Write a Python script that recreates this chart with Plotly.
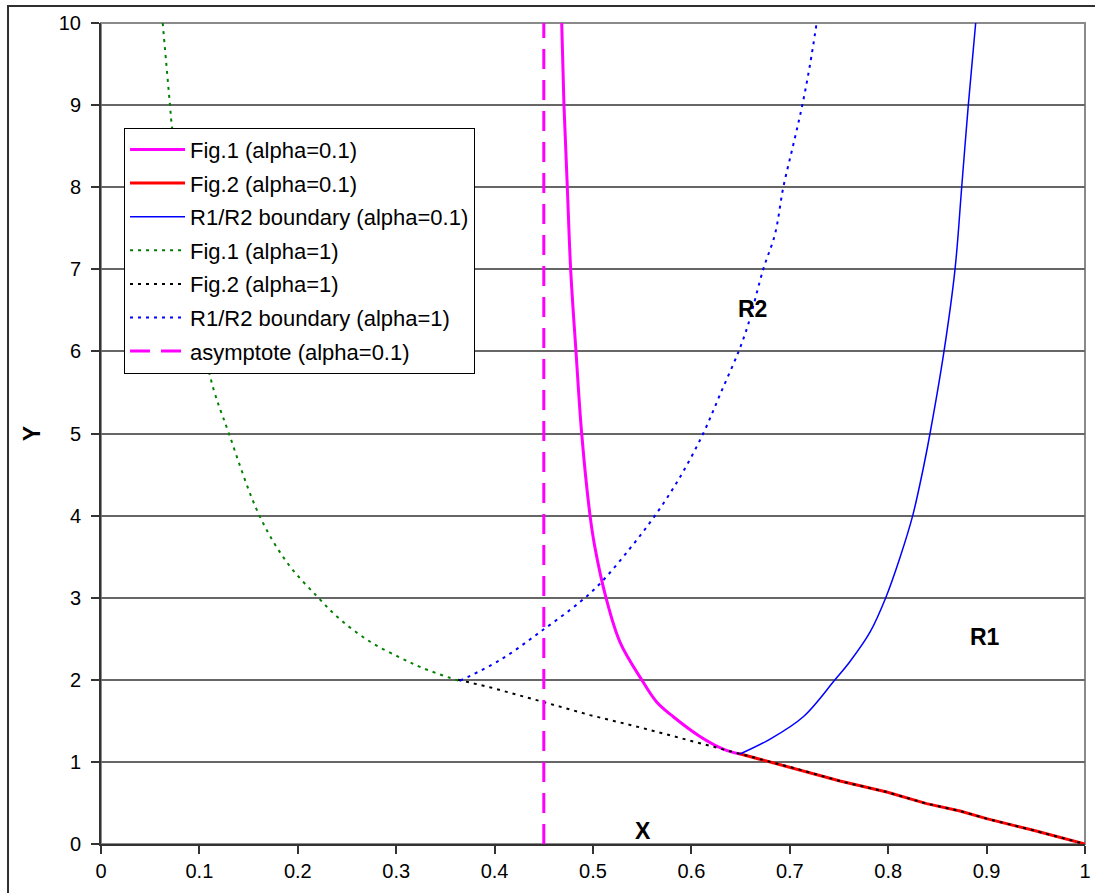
import plotly.graph_objects as go

# ---- data ----
fig1_a01_x = [0.4682, 0.4705, 0.4739, 0.4773, 0.4827, 0.4885, 0.4970, 0.502, 0.5132, 0.5274,
              0.5495, 0.5647, 0.5816, 0.6087, 0.6324, 0.6494]
fig1_a01_y = [10.0, 9.0, 8.0, 7.0, 6.0, 5.0, 4.0, 3.61, 3.0, 2.46,
              2.0, 1.73, 1.55, 1.31, 1.156, 1.096]

fig2_a01_x = [0.649, 0.6765, 0.710, 0.751, 0.7985, 0.839, 0.873, 0.900, 0.9475, 1.0]
fig2_a01_y = [1.10, 1.01, 0.906, 0.767, 0.633, 0.492, 0.402, 0.309, 0.167, 0.0]

bnd_a01_x = [0.6494, 0.680, 0.7137, 0.7459, 0.761, 0.7815, 0.7975, 0.812, 0.8249, 0.8357,
             0.8425, 0.8567, 0.8679, 0.8747, 0.8814, 0.8889]
bnd_a01_y = [1.096, 1.278, 1.55, 2.0, 2.22, 2.58, 3.0, 3.49, 4.0, 4.58,
             5.0, 6.0, 7.0, 8.0, 9.0, 10.0]

fig1_a1_x = [0.0627, 0.0701, 0.0722, 0.1098, 0.130, 0.161, 0.189, 0.220, 0.2436, 0.274, 0.304, 0.3276, 0.363]
fig1_a1_y = [10.0, 9.0, 8.73, 5.75, 5.0, 4.0, 3.43, 3.01, 2.73, 2.46, 2.27, 2.14, 1.99]

fig2_a1_x = [0.363, 0.395, 0.4495, 0.497, 0.548, 0.5986, 0.649, 0.6765, 0.710, 0.751, 0.7985,
             0.839, 0.873, 0.900, 0.9475, 1.0]
fig2_a1_y = [2.0, 1.91, 1.73, 1.57, 1.42, 1.26, 1.10, 1.01, 0.906, 0.767, 0.633,
             0.492, 0.402, 0.309, 0.167, 0.0]

bnd_a1_x = [0.365, 0.4055, 0.446, 0.487, 0.507, 0.5376, 0.563, 0.588, 0.612, 0.630, 0.648,
            0.658, 0.673, 0.685, 0.6934, 0.7036, 0.7127, 0.7205, 0.7273]
bnd_a1_y = [1.99, 2.24, 2.58, 2.95, 3.17, 3.60, 4.0, 4.46, 5.0, 5.5, 6.0,
            6.34, 7.0, 7.43, 8.0, 8.52, 9.0, 9.49, 10.0]

asym_x = [0.45, 0.45]
asym_y = [0.0, 10.0]

x_ticks = [0, 0.1, 0.2, 0.3, 0.4, 0.5, 0.6, 0.7, 0.8, 0.9, 1]
y_ticks = list(range(0, 11))

FONT = "Arial, Liberation Sans, sans-serif"
DOT = "3px,5px"

fig = go.Figure()
series = [
    ("Fig.1 (alpha=0.1)", fig1_a01_x, fig1_a01_y, "#FF00FF", 3, "solid", "spline"),
    ("Fig.2 (alpha=0.1)", fig2_a01_x, fig2_a01_y, "#FF0000", 3, "solid", "linear"),
    ("R1/R2 boundary (alpha=0.1)", bnd_a01_x, bnd_a01_y, "#0000FF", 1.5, "solid", "spline"),
    ("Fig.1 (alpha=1)", fig1_a1_x, fig1_a1_y, "#008000", 2, DOT, "spline"),
    ("Fig.2 (alpha=1)", fig2_a1_x, fig2_a1_y, "#000000", 2, DOT, "linear"),
    ("R1/R2 boundary (alpha=1)", bnd_a1_x, bnd_a1_y, "#0000FF", 2, DOT, "spline"),
    ("asymptote (alpha=0.1)", asym_x, asym_y, "#FF00FF", 3, "20px,11px", "linear"),
]
for i, (name, xs, ys, col, w, dash, shape) in enumerate(series):
    line = dict(color=col, width=w, dash=dash, shape=shape)
    if shape == "spline":
        line["smoothing"] = 1.0
    fig.add_trace(go.Scatter(x=xs, y=ys, mode="lines", name=name, legendgroup=f"g{i}", line=line))

fig.update_layout(
    width=1095, height=893,
    margin=dict(l=101, r=10, t=23, b=49, autoexpand=False),
    paper_bgcolor="white", plot_bgcolor="white",
    font=dict(family=FONT, size=20, color="black"),
    showlegend=True,
    legend=dict(x=0.0234, y=0.8725, xanchor="left", yanchor="top",
                bgcolor="white", bordercolor="black", borderwidth=1,
                font=dict(family=FONT, size=22, color="black"),
                tracegroupgap=2, itemwidth=55),
    xaxis=dict(range=[0, 1], tickvals=x_ticks, ticks="outside", ticklen=8, tickwidth=1.5,
               tickcolor="#333333", showline=True, linecolor="#333333", linewidth=2,
               showgrid=False, zeroline=False, ticklabelstandoff=0, automargin=False,
               tickfont=dict(family=FONT, size=20, color="black")),
    yaxis=dict(range=[0, 10], tickvals=y_ticks, ticks="outside", ticklen=8, tickwidth=1.5,
               tickcolor="#333333", showline=True, linecolor="#333333", linewidth=2,
               showgrid=True, gridcolor="#666666", gridwidth=1.5, zeroline=False,
               ticklabelstandoff=6, automargin=False,
               title=dict(text="<b>Y</b>", font=dict(family=FONT, size=23, color="black"), standoff=12),
               tickfont=dict(family=FONT, size=20, color="black")),
    shapes=[
        dict(type="rect", xref="paper", yref="paper", x0=0, x1=1, y0=0, y1=1,
             line=dict(color="#8a8a8a", width=2), layer="below"),
        dict(type="rect", xref="paper", yref="paper", x0=-0.0945, x1=1.05, y0=-0.1, y1=1.0207,
             line=dict(color="#303030", width=2), layer="below"),
    ],
    annotations=[
        dict(text="<b>X</b>", x=0.551, y=0.16, xref="x", yref="y", showarrow=False,
             font=dict(family=FONT, size=23, color="black")),
        dict(text="<b>R2</b>", x=0.6616, y=6.52, xref="x", yref="y", showarrow=False,
             font=dict(family=FONT, size=23, color="black")),
        dict(text="<b>R1</b>", x=0.898, y=2.52, xref="x", yref="y", showarrow=False,
             font=dict(family=FONT, size=23, color="black")),
    ],
)

fig.write_html("out.html")
